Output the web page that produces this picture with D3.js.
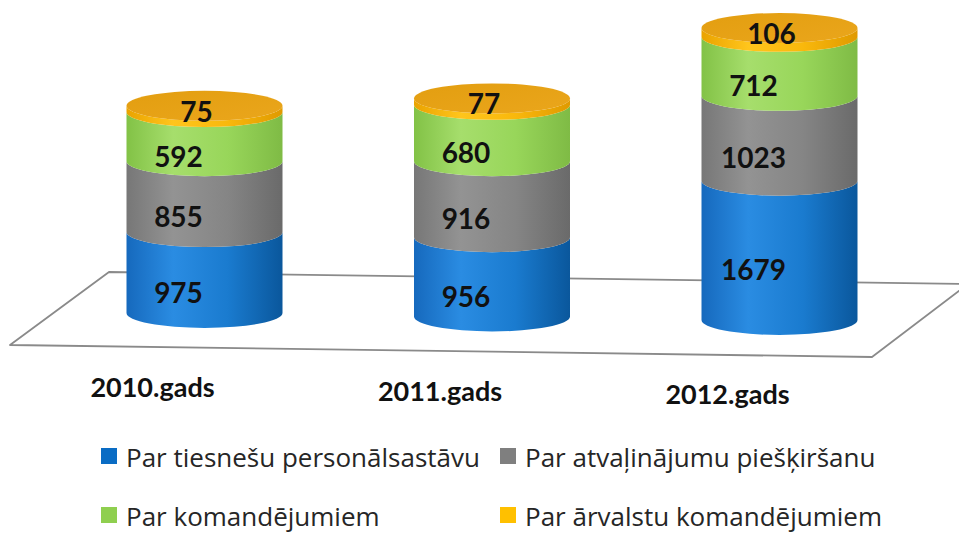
<!DOCTYPE html>
<html>
<head>
<meta charset="utf-8">
<script src="https://cdn.jsdelivr.net/npm/d3@7"></script>
<style>
  html, body { margin: 0; padding: 0; background: #fff; }
  svg { display: block; }
  .val { font-family: Lato, "Open Sans", sans-serif; font-weight: 700; font-size: 28px; fill: #111; }
  .cat { font-family: Lato, "Open Sans", sans-serif; font-weight: 700; font-size: 27px; fill: #111; }
  .leg { font-family: "Open Sans", Lato, sans-serif; font-size: 26px; fill: #262626; }
</style>
</head>
<body>
<div id="chart"></div>
<script>
// data
const years = ["2010.gads", "2011.gads", "2012.gads"];
const seriesNames = [
  "Par tiesnešu personālsastāvu",
  "Par atvaļinājumu piešķiršanu",
  "Par komandējumiem",
  "Par ārvalstu komandējumiem"
];
const personalsastavs = [975, 956, 1679];
const atvalinajumi = [855, 916, 1023];
const komandejumi = [592, 680, 712];
const arvalstuKomandejumi = [75, 77, 106];

const series = [personalsastavs, atvalinajumi, komandejumi, arvalstuKomandejumi];

const config = {
  width: 959, height: 534,
  rx: 78, ry: 15,
  labelShiftX: -26,   // value labels sit a bit left of the cylinder axis
  catShiftX: -52,
  catOffsetY: 84
};

// side gradients, one per series (left edge, highlight, right edge)
const sideStops = [
  [["0%", "#1669bd"], ["30%", "#2a8ce2"], ["65%", "#1a7bcf"], ["100%", "#0a579c"]],
  [["0%", "#777777"], ["30%", "#939393"], ["65%", "#858585"], ["100%", "#6a6a6a"]],
  [["0%", "#82c246"], ["30%", "#a6de6c"], ["65%", "#98d65a"], ["100%", "#7fbb45"]],
  [["0%", "#eaa300"], ["30%", "#ffc51c"], ["65%", "#f9b80c"], ["100%", "#e09a00"]]
];
const legendColors = ["#0a6cc4", "#7f7f7f", "#8fcf4f", "#ffc000"];

const svg = d3.select("#chart").append("svg")
  .attr("width", config.width)
  .attr("height", config.height);

const defs = svg.append("defs");
sideStops.forEach((stops, i) => {
  const g = defs.append("linearGradient")
    .attr("id", "side" + i)
    .attr("x1", 0).attr("x2", 1).attr("y1", 0).attr("y2", 0);
  stops.forEach(s => g.append("stop").attr("offset", s[0]).attr("stop-color", s[1]));
});
const topGrad = defs.append("linearGradient")
  .attr("id", "topFace").attr("x1", 0).attr("x2", 1).attr("y1", 0).attr("y2", 1);
topGrad.append("stop").attr("offset", "0%").attr("stop-color", "#e39e10");
topGrad.append("stop").attr("offset", "100%").attr("stop-color", "#eaa61c");

// scales
const x = d3.scalePoint().domain(years).range([204.5, 779.5]);
const h = d3.scaleLinear().domain([0, 3520]).range([0, 292]);
// floor perspective: bottom centre of each cylinder drops slightly to the right
const base = d3.scaleLinear().domain([204.5, 779.5]).range([313, 320]);

// floor (parallelogram, top-right corner runs off the picture)
svg.append("path")
  .attr("d", "M109,272 L968,284 L872,357 L10,345 Z")
  .attr("fill", "#fff")
  .attr("stroke", "#8a8a8a")
  .attr("stroke-width", 1.8)
  .attr("stroke-linejoin", "round");

function sidePath(cx, yb, yt) {
  const {rx, ry} = config;
  return `M${cx - rx},${yb} A${rx},${ry} 0 0 0 ${cx + rx},${yb}` +
    ` L${cx + rx},${yt} A${rx},${ry} 0 0 1 ${cx - rx},${yt} Z`;
}

const plot = svg.append("g").attr("class", "plotArea");

years.forEach((year, j) => {
  const cx = x(year);
  const b = base(cx);
  const g = plot.append("g").attr("class", "cylinder");
  let cum = 0;
  const segs = series.map((s, i) => {
    const v = s[j];
    const yb = b - h(cum);
    cum += v;
    const yt = b - h(cum);
    return {i, v, yb, yt};
  });

  segs.forEach(d => {
    g.append("path")
      .attr("d", sidePath(cx, d.yb, d.yt))
      .attr("fill", `url(#side${d.i})`);
  });

  const top = segs[segs.length - 1];
  g.append("ellipse")
    .attr("cx", cx).attr("cy", top.yt)
    .attr("rx", config.rx).attr("ry", config.ry)
    .attr("fill", "url(#topFace)");

  // labels
  segs.forEach((d, k) => {
    const last = k === segs.length - 1;
    const y = last ? d.yt + 5 : (d.yb + d.yt) / 2 + config.ry + 4;
    g.append("text")
      .attr("class", "val")
      .attr("x", cx + config.labelShiftX + (last ? 18 : 0))
      .attr("y", y)
      .attr("text-anchor", "middle")
      .attr("dominant-baseline", "central")
      .text(d.v);
  });

  svg.append("text")
    .attr("class", "cat")
    .attr("x", cx + config.catShiftX)
    .attr("y", b + config.catOffsetY)
    .attr("text-anchor", "middle")
    .text(year);
});

// legend
const legendPos = [
  {x: 101, y: 467}, {x: 500, y: 467},
  {x: 101, y: 526}, {x: 500, y: 526}
];
const legend = svg.append("g").attr("class", "legend");
seriesNames.forEach((name, i) => {
  const p = legendPos[i];
  legend.append("rect")
    .attr("x", p.x).attr("y", p.y - 19)
    .attr("width", 16).attr("height", 16)
    .attr("fill", legendColors[i]);
  legend.append("text")
    .attr("class", "leg")
    .attr("x", p.x + 25)
    .attr("y", p.y)
    .text(name);
});
</script>
</body>
</html>
